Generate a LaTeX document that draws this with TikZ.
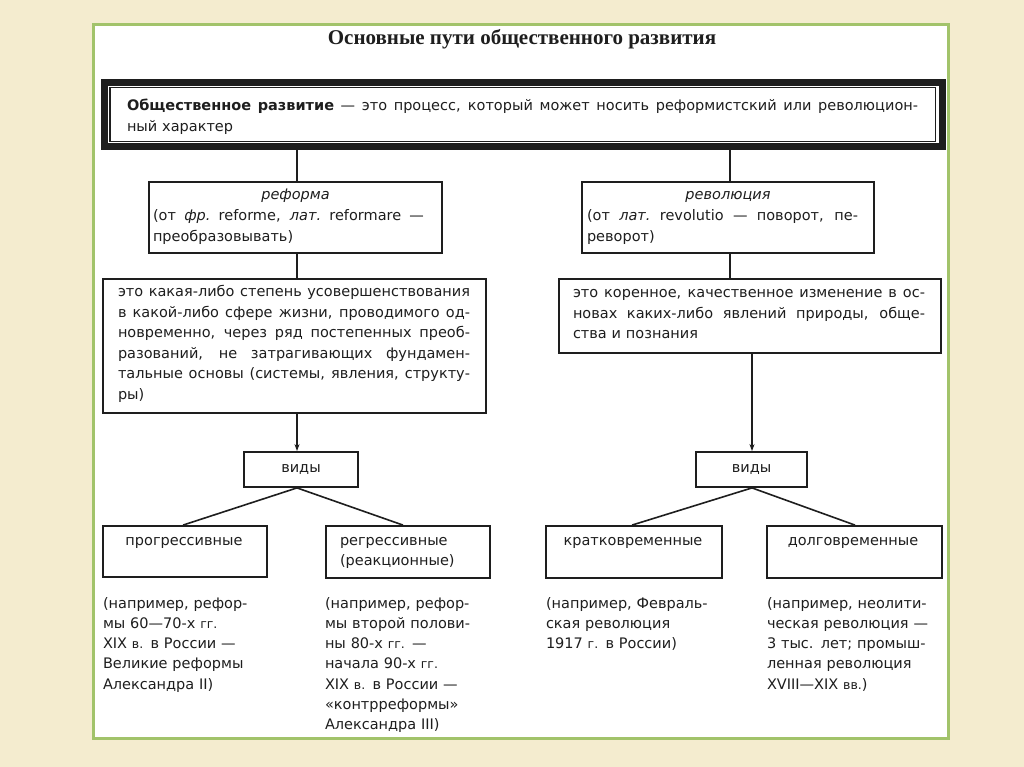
\documentclass[tikz,border=0pt]{standalone}
\usepackage{fontspec}
\setmainfont{DejaVu Sans}
\newfontfamily\titlefont{Liberation Serif}
\usetikzlibrary{fit,arrows.meta}
\definecolor{bg}{HTML}{F4ECCF}
\definecolor{grn}{HTML}{A2C36A}
\definecolor{ink}{HTML}{1E1E1E}
\newcommand\jl[2]{\leavevmode\hbox to #1{\spaceskip=0.3em plus 1fil\relax\xspaceskip=0.3em plus 1fil\relax #2}}
\newcommand\smz[1]{{\fontsize{12.5}{20}\selectfont #1}}
\begin{document}
\begin{tikzpicture}[x=1pt,y=-1pt,
  box/.style={draw=ink, line width=1.8pt, inner sep=0pt},
  txt/.style={inner sep=0pt, outer sep=0pt, text=ink, font=\fontsize{14.5}{20.2}\selectfont, align=left},
  conn/.style={draw=ink, line width=1.6pt},
  arr/.style={conn, -{Stealth[length=7pt,width=5pt]}},
]
\useasboundingbox (0,0) rectangle (1024,767);
\fill[bg] (0,0) rectangle (1024,767);
\node[draw=grn, line width=3pt, fill=white, inner sep=0pt, fit={(93,25)(948,738)}] (panel) {};

% title
\node[anchor=base, text=ink, inner sep=0pt, font=\titlefont\bfseries\fontsize{21}{24}\selectfont] (title) at (522,45) {Основные пути общественного развития};

% top box
\node[draw=ink, line width=7pt, inner sep=0pt, fit={(104.5,82.5)(942,147)}] (topf) {};
\node[draw=ink, line width=1.2pt, inner sep=0pt, fit={(110,87.5)(935.5,141.5)}] (topin) {};
\node[txt, anchor=base west, text width=791pt] (toptxt) at (127,111)
  {\jl{791pt}{\textbf{Общественное развитие} — это процесс, который может носить реформистский или революцион-}\\ный характер};

% reform / revolution boxes
\node[box, fit={(149,182)(442,253)}] (ref) {};
\node[txt, anchor=base] (reft) at (295.5,200) {\textit{реформа}};
\node[txt, anchor=base west, text width=271pt] (refd) at (153,221)
  {\jl{271pt}{(от \textit{фр.} reforme, \textit{лат.} reformare —}\\преобразовывать)};

\node[box, fit={(582,182)(874,253)}] (rev) {};
\node[txt, anchor=base] (revt) at (728,200) {\textit{революция}};
\node[txt, anchor=base west, text width=271pt] (revd) at (587,221)
  {\jl{271pt}{(от \textit{лат.} revolutio — поворот, пе-}\\реворот)};

% definitions
\node[box, fit={(103,279)(486,413)}] (ldef) {};
\node[txt, anchor=base west, text width=352pt, font=\fontsize{14.5}{20.6}\selectfont] (ldeft) at (118,296.5)
  {\jl{352pt}{это какая-либо степень усовершенствования}\\
   \jl{352pt}{в какой-либо сфере жизни, проводимого од-}\\
   \jl{352pt}{новременно, через ряд постепенных преоб-}\\
   \jl{352pt}{разований, не затрагивающих фундамен-}\\
   \jl{352pt}{тальные основы (системы, явления, структу-}\\
   ры)};

\node[box, fit={(559,279)(941,353)}] (rdef) {};
\node[txt, anchor=base west, text width=352pt, font=\fontsize{14.5}{20.5}\selectfont] (rdeft) at (573,297.5)
  {\jl{352pt}{это коренное, качественное изменение в ос-}\\
   \jl{352pt}{новах каких-либо явлений природы, обще-}\\
   ства и познания};

% vidy boxes
\node[box, fit={(244,452)(358,487)}] (lvid) {};
\node[txt, anchor=base] (lvidt) at (301,472.5) {виды};
\node[box, fit={(696,452)(807,487)}] (rvid) {};
\node[txt, anchor=base] (rvidt) at (751.5,472.5) {виды};

% kinds
\node[box, fit={(103,526)(267,577)}] (prog) {};
\node[txt, anchor=base] (progt) at (184,545) {прогрессивные};
\node[box, fit={(326,526)(490,578)}] (regr) {};
\node[txt, anchor=base west, text width=145pt] (regrt) at (340,545) {регрессивные\\(реакционные)};
\node[box, fit={(546,526)(722,578)}] (short) {};
\node[txt, anchor=base] (shortt) at (633,545) {кратковременные};
\node[box, fit={(767,526)(942,578)}] (long) {};
\node[txt, anchor=base] (longt) at (853,545) {долговременные};

% examples
\node[txt, anchor=base west, text width=200pt] (ex1) at (103,608.3)
  {(например, рефор-\\мы 60—70-х \smz{гг.}\\XIX \smz{в.} в России —\\Великие реформы\\Александра II)};
\node[txt, anchor=base west, text width=200pt] (ex2) at (325,608.3)
  {(например, рефор-\\мы второй полови-\\ны 80-х \smz{гг.} —\\начала 90-х \smz{гг.}\\XIX \smz{в.} в России —\\«контрреформы»\\Александра III)};
\node[txt, anchor=base west, text width=200pt] (ex3) at (546,608.3)
  {(например, Февраль-\\ская революция\\1917 \smz{г.} в России)};
\node[txt, anchor=base west, text width=200pt] (ex4) at (767,608.3)
  {(например, неолити-\\ческая революция —\\3 тыс. лет; промыш-\\ленная революция\\XVIII—XIX \smz{вв.})};

% connector x positions
\coordinate (xL) at (297,0);
\coordinate (xR) at (730,0);
\coordinate (xR2) at (752,0);
\coordinate (xPL) at (183,0);
\coordinate (xRG) at (403,0);
\coordinate (xSH) at (632,0);
\coordinate (xLG) at (855,0);

\draw[conn] (topf.south -| xL) -- (ref.north -| xL);
\draw[conn] (topf.south -| xR) -- (rev.north -| xR);
\draw[conn] (ref.south -| xL) -- (ldef.north -| xL);
\draw[conn] (rev.south -| xR) -- (rdef.north -| xR);
\draw[arr] (ldef.south -| xL) -- (lvid.north -| xL);
\draw[arr] (rdef.south -| xR2) -- (rvid.north -| xR2);
\draw[conn] (lvid.south -| xL) -- (prog.north -| xPL);
\draw[conn] (lvid.south -| xL) -- (regr.north -| xRG);
\draw[conn] (rvid.south -| xR2) -- (short.north -| xSH);
\draw[conn] (rvid.south -| xR2) -- (long.north -| xLG);
\end{tikzpicture}
\end{document}
